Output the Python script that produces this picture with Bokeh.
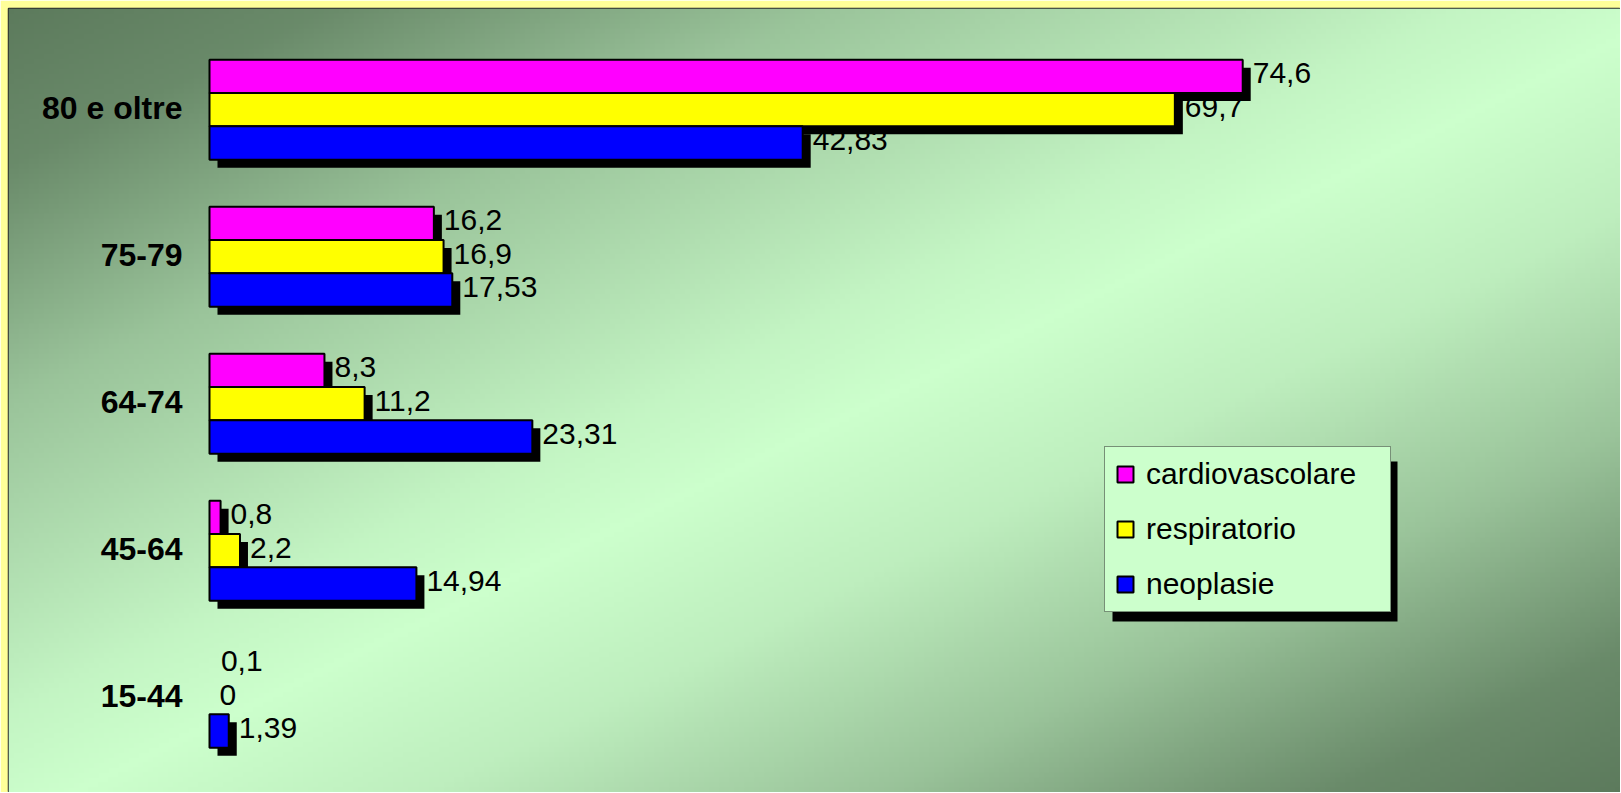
import numpy as np
from bokeh.plotting import figure
from bokeh.models import Range1d, ColumnDataSource, Legend, LegendItem
from bokeh.transform import dodge
from bokeh.core.properties import value
from bokeh.embed import file_html
from bokeh.resources import INLINE

# ---------------- data ----------------
categories = ["15-44", "45-64", "64-74", "75-79", "80 e oltre"]
series_names = ["cardiovascolare", "respiratorio", "neoplasie"]
cardiovascolare = [0.1, 0.8, 8.3, 16.2, 74.6]
respiratorio = [0.0, 2.2, 11.2, 16.9, 69.7]
neoplasie = [1.39, 14.94, 23.31, 17.53, 42.83]
series_colors = ["#ff00ff", "#ffff00", "#0000ff"]

# ---------------- layout constants ----------------
FIG_W, FIG_H = 1620, 792
BORDER = 8                      # yellow band at top / left
W, H = FIG_W - BORDER, FIG_H - BORDER   # frame size
PAGE_L, PAGE_T = BORDER, BORDER         # page position of the frame
PX_X = 13.85          # pixels per value unit
X0_PAGE = 209         # page x of value 0
PX_Y = 147            # pixels per category
TOPCAT_PAGE = 109.2   # page y of the top category centre
BAR_H = 0.2266        # bar thickness in category units

x_start = -(X0_PAGE - PAGE_L) / PX_X
x_end = x_start + W / PX_X
y_end = (len(categories) - 1) + (TOPCAT_PAGE - PAGE_T) / PX_Y
y_start = y_end - H / PX_Y


def px2x(px):
    return x_start + (px - PAGE_L) / PX_X


def py2y(py):
    return y_end - (py - PAGE_T) / PX_Y


SH_X = 8 / PX_X   # shadow offsets
SH_Y = 8 / PX_Y

p = figure(width=FIG_W, height=FIG_H, x_range=Range1d(x_start, x_end),
           y_range=Range1d(y_start, y_end), output_backend="svg",
           toolbar_location=None,
           min_border_left=BORDER, min_border_top=BORDER,
           min_border_right=0, min_border_bottom=0,
           x_axis_location=None, y_axis_location=None)
p.grid.visible = False
p.outline_line_color = "#2a2a2a"
p.outline_line_width = 1.5
p.background_fill_color = "#ccffcc"
p.border_fill_color = "#ffff99"

# ---------------- background gradient ----------------
Wn, Hn = 322, 157
xs = (np.arange(Wn) + 0.5) / Wn
ys_top = 1.0 - (np.arange(Hn) + 0.5) / Hn   # row 0 = bottom
t = (xs[None, :] + ys_top[:, None]) / 2.0
f = np.interp(t, [0, 0.1, 0.25, 0.45, 0.52, 0.63, 0.77, 0.91, 1.0],
              [0, 0.12, 0.55, 0.92, 1.0, 0.87, 0.55, 0.12, 0])
dark = np.array([92, 122, 92], dtype=float)
light = np.array([204, 255, 204], dtype=float)
rgb = dark[None, None, :] + (light - dark)[None, None, :] * f[:, :, None]
img = np.empty((Hn, Wn), dtype=np.uint32)
view = img.view(dtype=np.uint8).reshape((Hn, Wn, 4))
view[:, :, 0:3] = np.round(rgb).astype(np.uint8)
view[:, :, 3] = 255
p.image_rgba(image=[img], x=x_start, y=y_start, dw=x_end - x_start,
             dh=y_end - y_start)

# ---------------- data source ----------------
def fmt(v):
    return f"{v:g}".replace(".", ",")


def vis(vals):
    # bars narrower than ~2 px are not drawn in the original
    return [1.0 if v * PX_X >= 2 else 0.0 for v in vals]


idx = list(range(len(categories)))
src = ColumnDataSource(dict(
    idx=idx, cat=categories,
    cardiovascolare=cardiovascolare, respiratorio=respiratorio,
    neoplasie=neoplasie,
    lab_c=[fmt(v) for v in cardiovascolare],
    lab_r=[fmt(v) for v in respiratorio],
    lab_n=[fmt(v) for v in neoplasie],
    vis_c=vis(cardiovascolare), vis_r=vis(respiratorio),
    vis_n=vis(neoplasie),
))

offsets = [BAR_H, 0.0, -BAR_H]
labcols = ["lab_c", "lab_r", "lab_n"]
viscols = ["vis_c", "vis_r", "vis_n"]

FONT = value("Liberation Sans")

# category labels
p.text(x=0, y="idx", text="cat", source=src, x_offset=-27, y_offset=-2,
       text_align="right", text_baseline="middle", text_font=FONT,
       text_font_size="32px", text_font_style="bold", text_color="black")

# value labels (under the bars and shadows)
for name, off, lc in zip(series_names, offsets, labcols):
    p.text(x=name, y=dodge("idx", off), text=lc, source=src, x_offset=10,
           y_offset=-3, text_align="left", text_baseline="middle",
           text_font=FONT, text_font_size="30px", text_color="black")

# bars with shadows
bar_renderers = []
for name, off, col, vc in zip(series_names, offsets, series_colors, viscols):
    p.hbar(y=dodge("idx", off - SH_Y), left=SH_X, right=dodge(name, SH_X),
           height=BAR_H, source=src, fill_color="black", line_color=None,
           fill_alpha=vc)
    r = p.hbar(y=dodge("idx", off), left=0, right=name, height=BAR_H,
               source=src, fill_color=col, line_color="black",
               line_width=2, fill_alpha=vc, line_alpha=vc)
    bar_renderers.append(r)

# legend shadow
LB_L, LB_T, LB_R, LB_B = 1104, 452, 1389, 612
p.quad(left=px2x(LB_L + 8), right=px2x(LB_R + 8), top=py2y(LB_T + 9),
       bottom=py2y(LB_B + 9), fill_color="black", line_color=None)

legend = Legend(
    items=[LegendItem(label=n, renderers=[r], index=len(categories) - 1)
           for n, r in zip(series_names, bar_renderers)],
    location=(LB_L - PAGE_L, (PAGE_T + H) - LB_B),
    orientation="vertical", glyph_width=20, glyph_height=20,
    label_standoff=11, padding=10, spacing=21, margin=0,
    label_width=LB_R - LB_L - 20 - 20 - 11, label_height=30,
    label_text_font="Liberation Sans", label_text_font_size="30px",
    label_text_color="black",
    background_fill_color="#ccffcc", background_fill_alpha=1.0,
    border_line_color="#222222", border_line_width=1.5,
)
p.add_layout(legend)

open("out.html", "w").write(file_html(p, INLINE))
